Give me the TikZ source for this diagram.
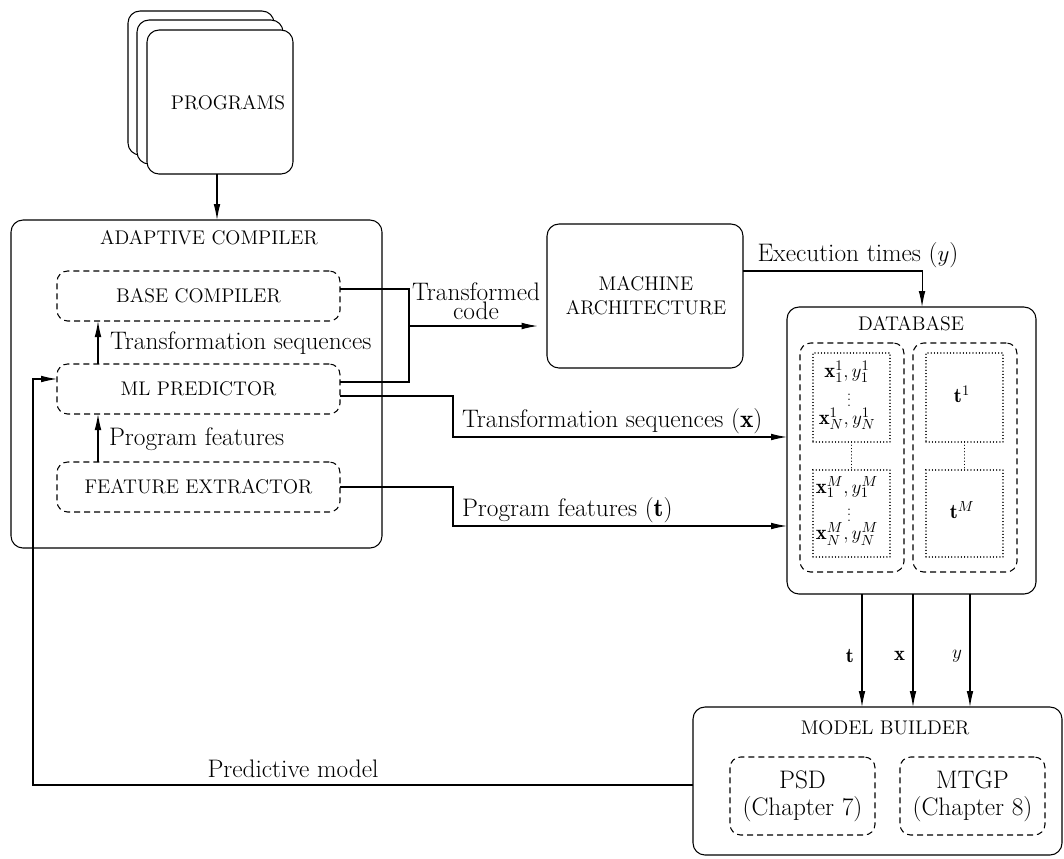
\documentclass[tikz,border=0pt]{standalone}
\usepackage{fontspec}
\usetikzlibrary{fit,arrows.meta,calc}
\begin{document}
\begin{tikzpicture}[x=0.75pt,y=-0.75pt,
  every node/.style={inner sep=0pt, outer sep=0pt},
  lw/.style={line width=0.8pt},
  box/.style={draw, lw, rounded corners=9pt, inner sep=0pt},
  dbox/.style={draw, line width=0.8pt, dash pattern=on 4.5pt off 3pt, rounded corners=8pt, inner sep=0pt},
  dotbox/.style={draw, line width=1pt, dash pattern=on 0.01pt off 2.4pt, line cap=round, inner sep=0pt},
  dotline/.style={line width=1pt, dash pattern=on 0.01pt off 2.4pt, line cap=round},
  lab/.style={font=\fontsize{19}{21}\selectfont},
  uptxt/.style={font=\fontsize{14.8}{17}\selectfont},
  mth/.style={font=\fontsize{15.5}{18}\selectfont},
  vdt/.style={font=\fontsize{11}{12}\selectfont},
  arr/.style={lw, -{Latex[length=12pt,width=5pt]}},
  con/.style={lw}]
\useasboundingbox (0,0) rectangle (1064,858);

% PROGRAMS stack
\node[box, fill=white, fit={(128,11) (274,155)}] (p3) {};
\node[box, fill=white, fit={(137,20) (283,164)}] (p2) {};
\node[box, fill=white, fit={(147,30) (293,174)}] (prog) {};
\node[uptxt] (progt) at (228,103) {PROGRAMS};

% ADAPTIVE COMPILER
\node[box, fit={(11,220) (382,548)}] (ac) {};
\node[uptxt] (act) at (209,238) {ADAPTIVE COMPILER};
\node[dbox, fit={(57,271) (340,321)}] (bc) {};
\node[uptxt] (bct) at (bc) {BASE COMPILER};
\node[dbox, fit={(57,364) (340,414)}] (ml) {};
\node[uptxt] (mlt) at (ml) {ML PREDICTOR};
\node[dbox, fit={(57,462) (340,512)}] (fe) {};
\node[uptxt] (fet) at (fe) {FEATURE EXTRACTOR};

\draw[arr] (217,174) -- (217,220);

\draw[arr] ([xshift=30.75pt]ml.north west) -- ([xshift=30.75pt]bc.south west);
\draw[arr] ([xshift=30.75pt]fe.north west) -- ([xshift=30.75pt]ml.south west);
\node[lab, anchor=west] (tsl) at (110,343) {Transformation sequences};
\node[lab, anchor=west] (pfl) at (109,439) {Program features};

% MACHINE ARCHITECTURE
\node[box, fit={(547,224) (743,368)}] (ma) {};
\node[uptxt, align=center] (mat) at (646,296) {MACHINE\\[1pt]ARCHITECTURE};

\coordinate (jn) at (409,326);
\draw[con] ([yshift=5.25pt]bc.east) -| (jn) |- ([yshift=5.25pt]ml.east);
\draw[arr, shorten >=7pt] (jn) -- (jn -| ma.west);
\node[lab, align=center] (tcl) at (476,301) {Transformed\\[-7pt]code};

% DATABASE
\node[box, fit={(787,307) (1036,594)}] (db) {};
\node[uptxt] (dbt) at (911,324) {DATABASE};
\node[dbox, fit={(800,343) (904,572)}] (dgl) {};
\node[dbox, fit={(913,343) (1017,572)}] (dgr) {};
\node[dotbox, fit={(813,353) (890,442)}] (l1) {};
\node[dotbox, fit={(813,470) (890,557)}] (l2) {};
\node[dotbox, fit={(926,353) (1003,442)}] (r1) {};
\node[dotbox, fit={(926,470) (1003,557)}] (r2) {};
\draw[dotline] (l1.south) -- (l2.north);
\draw[dotline] (r1.south) -- (r2.north);
\node[mth] (x11) at (847,372) {$\mathbf{x}^1_1, y^1_1$};
\node[vdt] (v1) at (849,396) {$\vdots$};
\node[mth] (xn1) at (847,419) {$\mathbf{x}^1_N, y^1_N$};
\node[mth] (x1m) at (847,487) {$\mathbf{x}^M_1, y^M_1$};
\node[vdt] (v2) at (849,511) {$\vdots$};
\node[mth] (xnm) at (847,534) {$\mathbf{x}^M_N, y^M_N$};
\node[mth] (t1) at (962,394) {$\mathbf{t}^1$};
\node[mth] (tm) at (962,510) {$\mathbf{t}^M$};

% Execution times
\draw[arr] ([yshift=18.75pt]ma.east) -| ([xshift=7.9pt]db.north);
\node[lab] (etl) at (858,255) {Execution times ($y$)};

% Transformation sequences (x)
\coordinate (k1) at (453,437);
\draw[arr] ([yshift=-5.25pt]ml.east) -| (k1) -- (k1 -| db.west);
\node[lab, anchor=west] (tsx) at (462,421) {Transformation sequences ($\mathbf{x}$)};

% Program features (t)
\coordinate (k2) at (453,526);
\draw[arr] (fe.east) -| (k2) -- (k2 -| db.west);
\node[lab, anchor=west] (pft) at (462,510) {Program features ($\mathbf{t}$)};

% MODEL BUILDER
\node[box, fit={(693,707) (1062,855)}] (mb) {};
\node[uptxt] (mbt) at (885,728) {MODEL BUILDER};
\node[dbox, fit={(730,757) (875,835)}] (psd) {};
\node[lab, align=center] (psdt) at (psd) {PSD\\[-1pt](Chapter 7)};
\node[dbox, fit={(900,757) (1045,835)}] (mtgp) {};
\node[lab, align=center] (mtgpt) at (mtgp) {MTGP\\[-1pt](Chapter 8)};

\draw[arr] (862,594) -- node[mth, left=6pt, pos=0.55] (tl) {$\mathbf{t}$} (862,707);
\draw[arr] (913,594) -- node[mth, left=6pt, pos=0.55] (xl) {$\mathbf{x}$} (913,707);
\draw[arr] (970,594) -- node[mth, left=6pt, pos=0.55] (yl) {$y$} (970,707);

% Predictive model feedback
\coordinate (fb) at (33,785);
\draw[arr] ([yshift=-3pt]mb.west) -- (fb) |- ([yshift=7.5pt]ml.west);
\node[lab] (pml) at (293,769) {Predictive model};
\end{tikzpicture}
\end{document}
